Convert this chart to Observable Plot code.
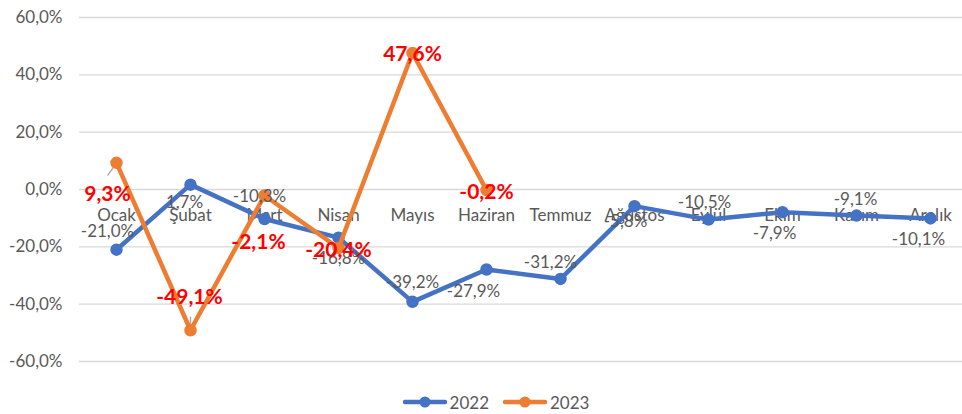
<!DOCTYPE html>
<html>
<head>
<meta charset="utf-8">
<script src="https://cdn.jsdelivr.net/npm/d3@7"></script>
<script src="https://cdn.jsdelivr.net/npm/@observablehq/plot@0.6"></script>
<style>
  html, body { margin: 0; padding: 0; background: #fff; }
  body { width: 962px; height: 414px; overflow: hidden; font-family: Lato, "Open Sans", sans-serif; }
  #legend { display: flex; justify-content: center; align-items: center; height: 24px; gap: 14px; padding-left: 30px; color: #595959; font-size: 17px; }
  #legend .item { display: flex; align-items: center; gap: 3px; }
</style>
</head>
<body>
<div id="chart"></div>
<div id="legend"></div>
<script>
const months = ["Ocak", "Şubat", "Mart", "Nisan", "Mayıs", "Haziran", "Temmuz", "Ağustos", "Eylül", "Ekim", "Kasım", "Aralık"];
const values2022 = [-21.0, 1.7, -10.3, -16.8, -39.2, -27.9, -31.2, -5.8, -10.5, -7.9, -9.1, -10.1];
const values2023 = [9.3, -49.1, -2.1, -20.4, 47.6, -0.2];
const yTicks = [-60, -40, -20, 0, 20, 40, 60];
const seriesNames = ["2022", "2023"];

const colors = { "2022": "#4472C4", "2023": "#ED7D31" };
// label offsets (presentation only), px relative to point
const off2022 = [[-9,-18],[-6,18],[-5,-22],[0,21],[0,-19],[-13,22],[-10,-16],[-9,15],[-4,-17],[-8,21],[-1,-16],[-12,21]];
const off2023 = [[-9,31],[-1,-33],[-6,47],[0,2],[0,1],[0,2]];

const fmt = v => v.toFixed(1).replace(".", ",") + "%";

const d2022 = values2022.map((v, i) => ({ month: months[i], value: v, series: "2022", dx: off2022[i][0], dy: off2022[i][1] }));
const d2023 = values2023.map((v, i) => ({ month: months[i], value: v, series: "2023", dx: off2023[i][0], dy: off2023[i][1] }));

const labelMarks = (data, opts) => data.map(d => Plot.text([d], { x: "month", y: "value", text: d => fmt(d.value), dx: d.dx, dy: d.dy, ...opts }));

const chart = Plot.plot({
  width: 962,
  height: 390,
  marginTop: 17,
  marginBottom: 29,
  marginLeft: 79,
  marginRight: 0,
  style: { fontFamily: "Lato, 'Open Sans', sans-serif", background: "#fff", overflow: "visible" },
  x: { type: "point", domain: months, range: [79, 967], padding: 0.5, axis: null },
  y: { domain: [-60, 60], ticks: yTicks },
  marks: [
    Plot.ruleY(yTicks, { stroke: "#D9D9D9", strokeWidth: 1.3, strokeOpacity: 1 }),
    Plot.axisY(yTicks, { tickFormat: fmt, tickSize: 0, tickPadding: 17, fontSize: 17, fill: "#595959", label: null }),
    Plot.text(months, { x: d => d, y: 0, text: d => d, dy: 26, fill: "#595959", fontSize: 17 }),
    Plot.vector([d2023[0]], { x: "month", y: "value", length: 15, rotate: 215, anchor: "start", stroke: "#A6A6A6", strokeWidth: 1.3, shape: { draw(ctx, l) { ctx.moveTo(0, 0); ctx.lineTo(0, -l); } } }),
    Plot.vector([d2023[1]], { x: "month", y: "value", length: 13, rotate: 0, anchor: "start", stroke: "#A6A6A6", strokeWidth: 1.3, shape: { draw(ctx, l) { ctx.moveTo(0, -2); ctx.lineTo(0, -l); } } }),
    Plot.line(d2022, { x: "month", y: "value", stroke: colors["2022"], strokeWidth: 4.5, strokeLinejoin: "round", strokeLinecap: "round" }),
    Plot.dot(d2022, { x: "month", y: "value", r: 5.5, fill: colors["2022"], stroke: colors["2022"] }),
    Plot.line(d2023, { x: "month", y: "value", stroke: colors["2023"], strokeWidth: 4.5, strokeLinejoin: "round", strokeLinecap: "round" }),
    Plot.dot(d2023, { x: "month", y: "value", r: 5.5, fill: colors["2023"], stroke: colors["2023"] }),
    ...labelMarks(d2022, { fill: "#595959", fontSize: 17 }),
    ...labelMarks(d2023, { fill: "#FF0000", fontSize: 21, fontWeight: "bold" })
  ]
});
document.getElementById("chart").appendChild(chart);

const legend = document.getElementById("legend");
seriesNames.forEach(name => {
  const item = document.createElement("div");
  item.className = "item";
  item.innerHTML = `<svg width="44" height="14"><line x1="2" y1="7" x2="42" y2="7" stroke="${colors[name]}" stroke-width="4.5" stroke-linecap="round"/><circle cx="22" cy="7" r="5.5" fill="${colors[name]}"/></svg><span>${name}</span>`;
  legend.appendChild(item);
});
</script>
</body>
</html>
